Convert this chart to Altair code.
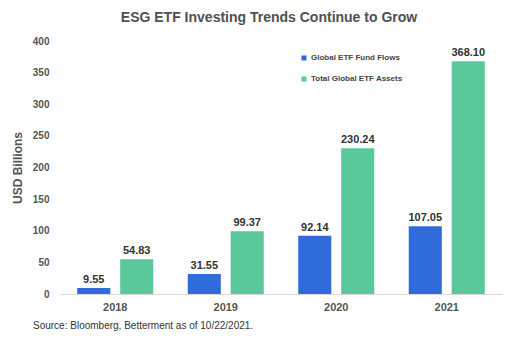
import altair as alt
import pandas as pd

years = ["2018", "2019", "2020", "2021"]
fund_flows = [9.55, 31.55, 92.14, 107.05]
total_assets = [54.83, 99.37, 230.24, 368.10]
series_names = ["Global ETF Fund Flows", "Total Global ETF Assets"]
colors = ["#2f6bdb", "#5bc89c"]
y_ticks = [0, 50, 100, 150, 200, 250, 300, 350, 400]
source_note = "Source: Bloomberg, Betterment as of 10/22/2021."
title_text = "ESG ETF Investing Trends Continue to Grow"

rows = []
for i, y in enumerate(years):
    rows.append({"year": y, "series": series_names[0], "value": fund_flows[i]})
    rows.append({"year": y, "series": series_names[1], "value": total_assets[i]})
df = pd.DataFrame(rows)
df["label"] = df["value"].map(lambda v: f"{v:.2f}")

W, H = 442, 253
FONT = "Liberation Sans"

x_enc = alt.X("year:N", sort=years,
              scale=alt.Scale(paddingInner=0.312, paddingOuter=0.156),
              axis=alt.Axis(title=None, labelAngle=0, labelFontSize=11, labelFontWeight="bold",
                            labelColor="#555555", labelPadding=7, ticks=False, grid=False,
                            domainColor="#d9d9d9", domainWidth=1))
xo_enc = alt.XOffset("series:N", sort=series_names,
                     scale=alt.Scale(paddingInner=0.23, paddingOuter=0))
y_enc = alt.Y("value:Q", scale=alt.Scale(domain=[0, 400], nice=False),
              axis=alt.Axis(title="USD Billions", values=y_ticks, grid=False, domain=False, ticks=False,
                            labelOverlap=False,
                            labelFontSize=10, labelFontWeight="bold", labelColor="#555555",
                            labelPadding=11, titleFontSize=12, titleFontWeight="bold",
                            titleColor="#555555", titlePadding=8))

base = alt.Chart(df)

bars = base.mark_bar().encode(
    x=x_enc, xOffset=xo_enc, y=y_enc,
    color=alt.Color("series:N", sort=series_names,
                    scale=alt.Scale(domain=series_names, range=colors),
                    legend=alt.Legend(title=None, orient="none", legendX=240, legendY=13,
                                      symbolType="square", symbolSize=25, symbolStrokeWidth=0,
                                      labelFontSize=8, labelFontWeight="bold", labelColor="#444444",
                                      rowPadding=13, labelOffset=3)),
)

labels = base.mark_text(fontSize=11, fontWeight="bold", color="#333333", dy=-8, font=FONT).encode(
    x=x_enc, xOffset=xo_enc, y=y_enc, text="label:N",
)

note = alt.Chart(pd.DataFrame({"t": [source_note]})).mark_text(
    align="left", baseline="middle", fontSize=10, color="#333333", font=FONT
).encode(x=alt.value(-27), y=alt.value(H + 32), text="t:N")

chart = alt.layer(bars, labels, note).properties(
    width=W, height=H,
    view=alt.ViewBackground(strokeWidth=0, strokeOpacity=0),
    autosize=alt.AutoSizeParams(type="none"),
    padding={"left": 60, "top": 41, "right": 10, "bottom": 60},
    title=alt.TitleParams(title_text, anchor="middle", fontSize=14, fontWeight="bold",
                          color="#505050", font=FONT, offset=11, dx=-12),
).configure(font=FONT).configure_view(strokeWidth=0, strokeOpacity=0)

chart.save("out.html", embed_options={"renderer": "svg", "actions": False})
